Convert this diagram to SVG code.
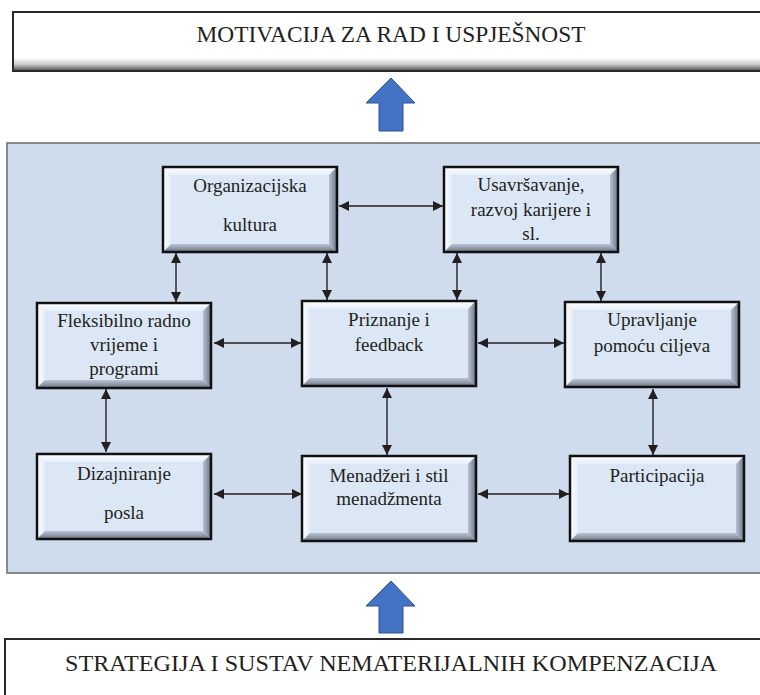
<svg xmlns="http://www.w3.org/2000/svg" xmlns:xlink="http://www.w3.org/1999/xlink" width="760" height="695" viewBox="0 0 760 695">
<style>
.t{font-family:"Liberation Serif","Times New Roman",serif;font-size:19px;fill:#231f20;text-anchor:middle}
.big{font-family:"Liberation Serif","Times New Roman",serif;font-size:23px;fill:#231f20;text-anchor:middle}
.con{stroke:#231f20;stroke-width:1.4;fill:none;marker-start:url(#ah);marker-end:url(#ah)}
.up{fill:#4472c4;stroke:#2f528f;stroke-width:1}
</style>
<defs>
<marker id="ah" viewBox="0 0 10 10" refX="10" refY="5" markerWidth="10" markerHeight="10" markerUnits="userSpaceOnUse" orient="auto-start-reverse">
<path d="M0,0 L10,5 L0,10 z" fill="#231f20"/>
</marker>
<linearGradient id="gTop" x1="0" y1="0" x2="0" y2="1"><stop offset="0" stop-color="#ffffff"/><stop offset="1" stop-color="#e6eef8"/></linearGradient>
<linearGradient id="gLeft" x1="0" y1="0" x2="1" y2="0"><stop offset="0" stop-color="#ffffff"/><stop offset="1" stop-color="#e3ecf7"/></linearGradient>
<linearGradient id="gRight" x1="0" y1="0" x2="1" y2="0"><stop offset="0" stop-color="#b6c1d1"/><stop offset="1" stop-color="#6b7586"/></linearGradient>
<linearGradient id="gBot" x1="0" y1="0" x2="0" y2="1"><stop offset="0" stop-color="#b9c3d2"/><stop offset="1" stop-color="#6b7586"/></linearGradient>
<linearGradient id="gWBot" x1="0" y1="0" x2="0" y2="1"><stop offset="0" stop-color="#ffffff"/><stop offset="0.5" stop-color="#c8c8c8"/><stop offset="1" stop-color="#4a4a4a"/></linearGradient>
<symbol id="box" viewBox="0 0 174 85" width="174" height="85" overflow="visible">
<rect x="1" y="1" width="174" height="85" fill="#111"/>
<rect x="0" y="0" width="174" height="85" fill="#dce7f5"/>
<polygon points="0,0 174,0 166,8 8,8" fill="url(#gTop)"/>
<polygon points="0,0 8,8 8,77 0,85" fill="url(#gLeft)"/>
<polygon points="174,0 174,85 166,77 166,8" fill="url(#gRight)"/>
<polygon points="0,85 174,85 166,77 8,77" fill="url(#gBot)"/>
<rect x="0" y="0" width="174" height="85" fill="none" stroke="#111" stroke-width="2.5"/>
</symbol>
</defs>
<rect width="760" height="695" fill="#ffffff"/>

<g id="motivacija">
<rect x="13" y="12" width="760" height="59" fill="#ffffff"/>
<rect x="13" y="58" width="760" height="13" fill="url(#gWBot)"/>
<rect x="13" y="12" width="760" height="59" fill="none" stroke="#2a2a2a" stroke-width="2"/>
<text class="big" x="391" y="42" textLength="389" lengthAdjust="spacingAndGlyphs">MOTIVACIJA ZA RAD I USPJEŠNOST</text>
</g>

<g id="arrow-top">
<polygon class="up" points="391,78 415,103 403,103 403,131 379,131 379,103 366,103"/>
</g>

<g id="panel">
<rect x="7" y="143" width="760" height="430" fill="#cfdcee" stroke="#6a6a6a" stroke-width="1.5"/>
</g>

<g id="connectors">
<line class="con" x1="339" y1="206" x2="443" y2="206"/>
<line class="con" x1="176" y1="253" x2="176" y2="302"/>
<line class="con" x1="327" y1="253" x2="327" y2="300"/>
<line class="con" x1="457" y1="253" x2="457" y2="300"/>
<line class="con" x1="601" y1="253" x2="601" y2="301"/>
<line class="con" x1="214" y1="343" x2="301" y2="343"/>
<line class="con" x1="478" y1="343" x2="564" y2="343"/>
<line class="con" x1="106" y1="389" x2="106" y2="452"/>
<line class="con" x1="387" y1="388" x2="387" y2="455"/>
<line class="con" x1="653" y1="389" x2="653" y2="455"/>
<line class="con" x1="214" y1="494" x2="302" y2="494"/>
<line class="con" x1="478" y1="494" x2="569" y2="494"/>
</g>

<g id="organizacijska">
<use xlink:href="#box" x="163" y="167"/>
<text class="t" x="250" y="192">Organizacijska</text>
<text class="t" x="250" y="231">kultura</text>
</g>
<g id="usavrsavanje">
<use xlink:href="#box" x="444" y="167"/>
<text class="t" x="531" y="191">Usavršavanje,</text>
<text class="t" x="531" y="216">razvoj karijere i</text>
<text class="t" x="531" y="240">sl.</text>
</g>
<g id="fleksibilno">
<use xlink:href="#box" x="37" y="303"/>
<text class="t" x="124" y="327">Fleksibilno radno</text>
<text class="t" x="124" y="351">vrijeme i</text>
<text class="t" x="124" y="375">programi</text>
</g>
<g id="priznanje">
<use xlink:href="#box" x="302" y="301"/>
<text class="t" x="389" y="326">Priznanje i</text>
<text class="t" x="389" y="351">feedback</text>
</g>
<g id="upravljanje">
<use xlink:href="#box" x="565" y="302"/>
<text class="t" x="652" y="326">Upravljanje</text>
<text class="t" x="652" y="352">pomoću ciljeva</text>
</g>
<g id="dizajniranje">
<use xlink:href="#box" x="37" y="454"/>
<text class="t" x="124" y="480">Dizajniranje</text>
<text class="t" x="124" y="519">posla</text>
</g>
<g id="menadzeri">
<use xlink:href="#box" x="302" y="456"/>
<text class="t" x="389" y="482">Menadžeri i stil</text>
<text class="t" x="389" y="505">menadžmenta</text>
</g>
<g id="participacija">
<use xlink:href="#box" x="570" y="456"/>
<text class="t" x="657" y="482">Participacija</text>
</g>

<g id="arrow-bottom">
<polygon class="up" points="391,581 415,606 403,606 403,633 379,633 379,606 366,606"/>
</g>

<g id="strategija">
<rect x="5" y="639" width="770" height="70" fill="#ffffff" stroke="#2a2a2a" stroke-width="2"/>
<text class="big" x="391" y="671" textLength="652" lengthAdjust="spacingAndGlyphs">STRATEGIJA I SUSTAV NEMATERIJALNIH KOMPENZACIJA</text>
</g>
</svg>
